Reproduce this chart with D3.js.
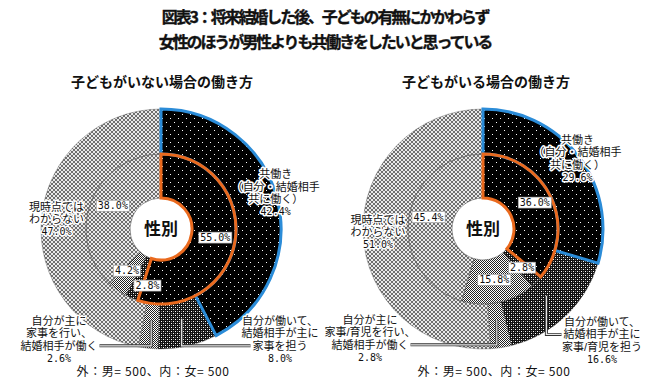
<!DOCTYPE html>
<html>
<head>
<meta charset="utf-8">
<script src="https://cdn.jsdelivr.net/npm/d3@7"></script>
<style>
  body { margin: 0; background: #fff; }
  text { font-family: "Noto Sans CJK JP", sans-serif; fill: #111; }
  .lbl { font-family: "Liberation Sans", "Noto Sans CJK JP", sans-serif; }
  .mono { font-family: "DejaVu Sans Mono", monospace; }
</style>
</head>
<body>
<svg id="chart" width="650" height="388"></svg>
<script>
// ---- data ----
const titleLines = ["図表3：将来結婚した後、子どもの有無にかかわらず", "女性のほうが男性よりも共働きをしたいと思っている"];
const panelTitles = ["子どもがいない場合の働き方", "子どもがいる場合の働き方"];
const centerLabel = "性別";
const footNote = "外：男= 500、内：女= 500";

// order: 共働き, 自分が働いて..., 自分が主に家事..., 現時点ではわからない
const noChildMale = [42.4, 8.0, 2.6, 47.0];    // outer ring
const noChildFemale = [55.0, 2.8, 4.2, 38.0];  // inner ring
const withChildMale = [29.6, 16.6, 2.8, 51.0];
const withChildFemale = [36.0, 2.8, 15.8, 45.4];

const noChildLabels = [
  ["共働き", "（自分・結婚相手", "共に働く）"],
  ["自分が働いて、", "結婚相手が主に", "家事を担う"],
  ["自分が主に", "家事を行い、", "結婚相手が働く"],
  ["現時点では", "わからない"]
];
const withChildLabels = [
  ["共働き", "（自分・結婚相手", "共に働く）"],
  ["自分が働いて、", "結婚相手が主に", "家事/育児を担う"],
  ["自分が主に", "家事/育児を行い、", "結婚相手が働く"],
  ["現時点では", "わからない"]
];

// ---- setup ----
const svg = d3.select("#chart");
const defs = svg.append("defs");

function pattern(id, size, bg, cells) {
  const p = defs.append("pattern").attr("id", id)
    .attr("patternUnits", "userSpaceOnUse")
    .attr("width", size).attr("height", size);
  p.append("rect").attr("width", size).attr("height", size).attr("fill", bg);
  cells.forEach(c => p.append("rect").attr("x", c[0]).attr("y", c[1])
    .attr("width", c[2]).attr("height", c[3]).attr("fill", c[4]));
}
pattern("pDots", 8, "#000", [[1, 1, 1, 1, "#fff"], [5, 5, 1, 1, "#fff"]]);
pattern("pDark", 4, "#111", [[0, 0, 1, 1, "#fff"], [2, 2, 1, 1, "#fff"], [2, 0, 1, 1, "#777"], [0, 2, 1, 1, "#777"]]);
pattern("pMid", 2, "#fff", [[0, 0, 1, 1, "#222"], [1, 1, 1, 1, "#222"]]);
pattern("pLight", 4, "#e8e8e8", [[0, 0, 2, 2, "#6e6e6e"], [2, 2, 2, 2, "#6e6e6e"]]);
const fills = ["pDots", "pDark", "pMid", "pLight"];

const rHole = 31, rMid = 75, rOut = 120;
const pie = d3.pie().sort(null).value(d => d);
const arcIn = d3.arc().innerRadius(rHole).outerRadius(rMid);
const arcOut = d3.arc().innerRadius(rMid).outerRadius(rOut);
const pct = v => d3.format(".1f")(v) + "%";
const lineH = 12.4;

// title
svg.selectAll("text.title").data(titleLines).join("text")
  .attr("class", "title")
  .attr("x", 325).attr("y", (d, i) => 23 + i * 25)
  .attr("text-anchor", "middle")
  .attr("font-size", 16).attr("font-weight", "bold")
  .attr("letter-spacing", -2.1)
  .attr("stroke", "#111").attr("stroke-width", 0.35)
  .text(d => d);

function boxLabel(g, x, y, txt) {
  const t = g.append("text").attr("class", "mono")
    .attr("x", x).attr("y", y).attr("dy", "0.35em")
    .attr("text-anchor", "middle").attr("font-size", 10).text(txt);
  const b = t.node().getBBox();
  g.insert("rect", () => t.node())
    .attr("x", b.x - 1.5).attr("y", b.y)
    .attr("width", b.width + 3).attr("height", b.height)
    .attr("fill", "#fff").attr("stroke", "#999").attr("stroke-width", 0.6);
}

function blockLabel(g, x, y, lines, value) {
  const t = g.append("text").attr("class", "lbl")
    .attr("text-anchor", "middle").attr("font-size", 11)
    .attr("stroke", "#fff").attr("stroke-width", 3).attr("paint-order", "stroke")
    .attr("stroke-linejoin", "round");
  lines.forEach((s, i) => t.append("tspan").attr("x", x).attr("y", y + i * lineH)
    .attr("dy", "0.35em").text(s));
  t.append("tspan").attr("class", "mono").attr("font-size", 10)
    .attr("x", x).attr("y", y + lines.length * lineH).attr("dy", "0.35em").text(pct(value));
  return t;
}

function drawPanel(cx, cy, title, male, female, labels, opt) {
  const g = svg.append("g").attr("transform", `translate(${cx},${cy})`);

  svg.append("text").attr("x", cx + opt.titleDx).attr("y", 87)
    .attr("text-anchor", "middle").attr("font-size", 14).attr("font-weight", "bold")
    .text(title);

  const outer = pie(male), inner = pie(female);

  g.selectAll("path.out").data(outer).join("path").attr("class", "out")
    .attr("d", arcOut).attr("fill", (d, i) => `url(#${fills[i]})`)
    .attr("stroke", "#555").attr("stroke-width", 0.4);
  g.selectAll("path.in").data(inner).join("path").attr("class", "in")
    .attr("d", arcIn).attr("fill", (d, i) => `url(#${fills[i]})`)
    .attr("stroke", "#444").attr("stroke-width", 0.5);

  // highlight the 共働き slices
  g.append("path").attr("d", arcOut(outer[0])).attr("fill", "none")
    .attr("stroke", "#2b8cd8").attr("stroke-width", 3);
  g.append("path").attr("d", arcIn(inner[0])).attr("fill", "none")
    .attr("stroke", "#ea6a1e").attr("stroke-width", 3);

  g.append("text").attr("text-anchor", "middle").attr("y", 6)
    .attr("font-size", 17).attr("font-weight", "bold").text(centerLabel);

  // inner ring values
  inner.forEach((d, i) => {
    const a = (d.startAngle + d.endAngle) / 2, n = opt.innerNudge[i] || [0, 0];
    boxLabel(g, 55 * Math.sin(a) + n[0], -55 * Math.cos(a) + n[1], pct(d.data));
  });

  // outer ring labels
  outer.forEach((d, i) => {
    const a = (d.startAngle + d.endAngle) / 2, o = opt.outer[i];
    const lines = labels[i];
    if (o.r) {
      const h = lines.length * lineH;
      blockLabel(g, o.r * Math.sin(a) + (o.dx || 0),
        -o.r * Math.cos(a) + (o.dy || 0) - h / 2, lines, d.data);
    } else {
      const ax = 92 * Math.sin(a), ay = -92 * Math.cos(a);
      const t = blockLabel(g, o.x, o.y, lines, d.data);
      const tspan = t.selectAll("tspan").nodes()[o.lead];
      const w = tspan.getComputedTextLength();
      const ly = o.y + o.lead * lineH;
      const ex = o.side === "left" ? o.x - w / 2 - 2 : o.x + w / 2 + 2;
      const path = `M${ax},${ay}L${ax},${ly}L${ex},${ly}`;
      g.insert("path", () => t.node()).attr("d", path).attr("fill", "none")
        .attr("stroke", "#333").attr("stroke-width", 3);
      g.insert("path", () => t.node()).attr("d", path).attr("fill", "none")
        .attr("stroke", "#e8e8e8").attr("stroke-width", 1.2);
    }
  });

  svg.append("text").attr("x", cx + opt.footDx).attr("y", 372).attr("dy", "0.35em")
    .attr("text-anchor", "middle").attr("font-size", 12).attr("letter-spacing", 0.6)
    .text(footNote);
}

drawPanel(161, 229, panelTitles[0], noChildMale, noChildFemale, noChildLabels, {
  titleDx: 1, footDx: -8,
  innerNudge: [[0, 0], [8, 6], [-2, -3], [3, -3]],
  outer: [{ r: 118, dy: -8 }, { x: 119, y: 92, lead: 2, side: "left" },
          { x: -102, y: 92, lead: 2, side: "right" }, { r: 105 }]
});
drawPanel(483, 229, panelTitles[1], withChildMale, withChildFemale, withChildLabels, {
  titleDx: 3, footDx: 11,
  innerNudge: [[2, -3], [0, 0], [0, -3], [0, -4]],
  outer: [{ r: 118 }, { x: 119, y: 93, lead: 1, side: "left" },
          { x: -113, y: 91, lead: 2, side: "right" }, { r: 105 }]
});
</script>
</body>
</html>
